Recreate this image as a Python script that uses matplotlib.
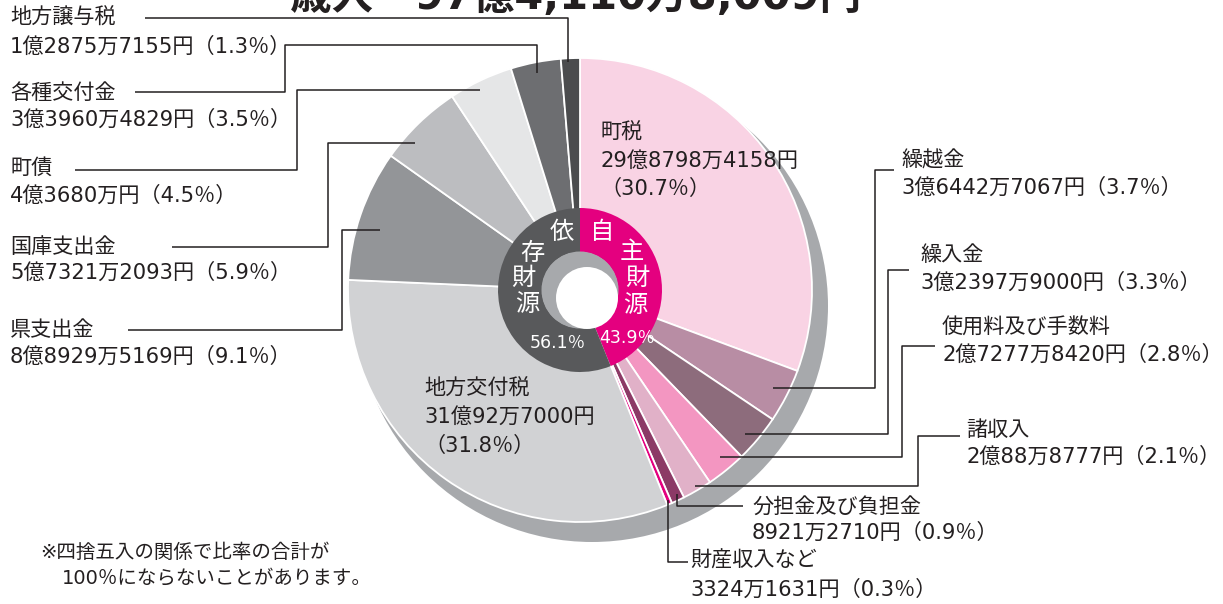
import matplotlib
matplotlib.use('Agg')
import matplotlib.pyplot as plt
from matplotlib.patches import Circle

# DejaVu first so digits come out a touch wider, CJK falls through to Noto
plt.rcParams['font.family'] = ['DejaVu Sans', 'Noto Sans CJK JP']

W, H = 1223, 604
INK = '#231f20'
FS = 15.2

# revenue items, clockwise from 12 o'clock
items = ['町税', '繰越金', '繰入金', '使用料及び手数料', '諸収入',
         '分担金及び負担金', '財産収入など', '地方交付税', '県支出金',
         '国庫支出金', '町債', '各種交付金', '地方譲与税']
amounts = [2987984158, 364427067, 323979000, 272778420, 200888777,
           89212710, 33241631, 3100927000, 889295169,
           573212093, 436800000, 339604829, 128757155]
amount_labels = ['29億8798万4158円', '3億6442万7067円', '3億2397万9000円',
                 '2億7277万8420円', '2億88万8777円', '8921万2710円',
                 '3324万1631円', '31億92万7000円', '8億8929万5169円',
                 '5億7321万2093円', '4億3680万円', '3億3960万4829円',
                 '1億2875万7155円']
shares = [30.7, 3.7, 3.3, 2.8, 2.1, 0.9, 0.3, 31.8, 9.1, 5.9, 4.5, 3.5, 1.3]
colors = ['#f9d3e4', '#b88da4', '#8d6c7c', '#f396c1', '#e1b1c8',
          '#8c3a66', '#e4007f', '#d1d2d4', '#939598',
          '#bcbdc0', '#e5e6e7', '#6d6e71', '#4b4c4e']

ring_labels = ['自主財源', '依存財源']
ring_shares = [43.9, 56.1]
ring_colors = ['#e4007f', '#58595b']

title = '歳入　97億4,110万8,009円'
note = ['※四捨五入の関係で比率の合計が', '100％にならないことがあります。']

# label layout in image pixels: x, y of name line, y of amount line
label_pos = {
    '地方譲与税': (10, 18, 47),
    '各種交付金': (10, 93, 120),
    '町債': (10, 168, 196),
    '国庫支出金': (10, 247, 273),
    '県支出金': (10, 330, 357),
    '繰越金': (901, 160, 188),
    '繰入金': (920, 255, 283),
    '使用料及び手数料': (942, 328, 355),
    '諸収入': (966, 430, 457),
    '分担金及び負担金': (752, 507, 533),
    '財産収入など': (690, 560, 590),
}
inside_pos = {'町税': (600, 133, 161, 189), '地方交付税': (424, 389, 417, 446)}

leaders = {
    '地方譲与税': [(145, 18), (568, 18), (568, 62)],
    '各種交付金': [(135, 92), (285, 92), (285, 45), (537, 45), (537, 73)],
    '町債': [(75, 170), (297, 170), (297, 90), (480, 90)],
    '国庫支出金': [(172, 247), (328, 247), (328, 143), (415, 143)],
    '県支出金': [(128, 330), (342, 330), (342, 230), (380, 230)],
    '繰越金': [(894, 170), (875, 170), (875, 388), (773, 388)],
    '繰入金': [(909, 270), (888, 270), (888, 434), (745, 434)],
    '使用料及び手数料': [(935, 346), (902, 346), (902, 457), (720, 457)],
    '諸収入': [(960, 436), (918, 436), (918, 486), (695, 486)],
    '分担金及び負担金': [(743, 506), (677, 506), (677, 494)],
    '財産収入など': [(688, 562), (668, 562), (668, 500)],
}


def Y(y):
    return H - y


fig = plt.figure(figsize=(W / 100, H / 100), dpi=100)
ax = fig.add_axes([0, 0, 1, 1])

CX, CY, R = 580, 290, 232

# drop shadow
ax.add_patch(Circle((CX + 12, Y(CY + 16)), R + 4, color='#a7a9ac',
                    lw=0, zorder=0))
ax.pie(amounts, colors=colors, startangle=90, counterclock=False,
       center=(CX, Y(CY)), radius=R,
       wedgeprops=dict(edgecolor='white', linewidth=1.3))
ax.pie(ring_shares, colors=ring_colors, startangle=90, counterclock=False,
       center=(CX, Y(CY)), radius=82,
       wedgeprops=dict(width=44, edgecolor='none'))
ax.add_patch(Circle((CX, Y(CY)), 38.5, color='#a7a9ac', lw=0, zorder=5))
ax.add_patch(Circle((CX + 7, Y(CY + 8)), 31, color='white', lw=0, zorder=6))

# ring text
for ch, (x, y) in zip('自主財源', [(602, 232), (632, 252), (637, 278), (635, 305)]):
    ax.text(x, Y(y), ch, color='white', fontsize=17.5, ha='center',
            va='center', zorder=7)
for ch, (x, y) in zip('依存財源', [(562, 232), (532, 253), (523, 278), (527, 304)]):
    ax.text(x, Y(y), ch, color='white', fontsize=17.5, ha='center',
            va='center', zorder=7)
ax.text(627, Y(338), f'{ring_shares[0]}％', color='white', fontsize=12.5,
        ha='center', va='center', zorder=7)
ax.text(558, Y(343), f'{ring_shares[1]}％', color='white', fontsize=12.5,
        ha='center', va='center', zorder=7)

# leader lines
for name, pts in leaders.items():
    xs = [p[0] for p in pts]
    ys = [Y(p[1]) for p in pts]
    ax.plot(xs, ys, color=INK, lw=1.1, zorder=4, solid_capstyle='butt')

# labels
for name, amt, pct in zip(items, amount_labels, shares):
    if name in label_pos:
        x, y1, y2 = label_pos[name]
        ax.text(x, Y(y1), name, fontsize=FS, color=INK, va='center')
        ax.text(x, Y(y2), f'{amt}（{pct}％）', fontsize=FS, color=INK,
                va='center')
    else:
        x, y1, y2, y3 = inside_pos[name]
        ax.text(x, Y(y1), name, fontsize=FS, color=INK, va='center')
        ax.text(x, Y(y2), amt, fontsize=FS, color=INK, va='center')
        ax.text(x, Y(y3), f'（{pct}％）', fontsize=FS, color=INK,
                va='center')

ax.text(290, Y(9), title, fontsize=30, fontweight='bold', color=INK,
        va='baseline')
ax.text(40, Y(552), note[0], fontsize=14, color=INK, va='center')
ax.text(62, Y(578), note[1], fontsize=14, color=INK, va='center')

ax.set_xlim(0, W)
ax.set_ylim(0, H)
ax.axis('off')
fig.savefig('out.png', dpi=100)
